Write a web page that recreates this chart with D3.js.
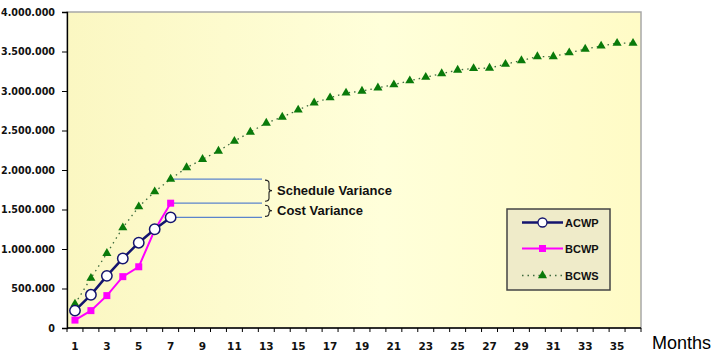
<!DOCTYPE html>
<html><head><meta charset="utf-8">
<script src="https://cdn.jsdelivr.net/npm/d3@7"></script>
<style>body{margin:0;background:#fff}svg{display:block}</style>
</head><body><svg id="c" width="716" height="359"></svg>
<script>
const months = [1,2,3,4,5,6,7,8,9,10,11,12,13,14,15,16,17,18,19,20,21,22,23,24,25,26,27,28,29,30,31,32,33,34,35,36];
const monthLabels = [1,3,5,7,9,11,13,15,17,19,21,23,25,27,29,31,33,35];
const acwp = [220000, 420000, 660000, 880000, 1080000, 1250000, 1400000];
const bcwp = [100000, 220000, 410000, 650000, 775000, 1240000, 1580000];
const bcws = [305000, 630000, 945000, 1270000, 1535000, 1725000, 1885000, 2030000, 2135000, 2240000,
  2365000, 2480000, 2595000, 2670000, 2760000, 2850000, 2915000, 2975000, 3000000, 3040000,
  3080000, 3130000, 3175000, 3220000, 3265000, 3285000, 3290000, 3340000, 3385000, 3435000,
  3435000, 3485000, 3530000, 3570000, 3605000, 3605000];
const yTicks = [0, 500000, 1000000, 1500000, 2000000, 2500000, 3000000, 3500000, 4000000];
const seriesNames = ["ACWP", "BCWP", "BCWS"];
const annotations = ["Schedule Variance", "Cost Variance"];
const xTitle = "Months";

const svg = d3.select("#c");
const L = 67, R = 641, T = 12, B = 328;
const x = d3.scaleBand().domain(months).range([L, R]).padding(0);
const y = d3.scaleLinear().domain([0, 4000000]).range([B, T]);
const cx = m => x(m) + x.bandwidth() / 2;
const loc = d3.formatLocale({decimal: ",", thousands: ".", grouping: [3], currency: ["", ""]});
const fmt = loc.format(",d");

const defs = svg.append("defs");
const g = defs.append("linearGradient").attr("id", "bg").attr("x1", "0").attr("x2", "1").attr("y1", "0").attr("y2", "0");
g.append("stop").attr("offset", "0").attr("stop-color", "#fbf7c2");
g.append("stop").attr("offset", "0.55").attr("stop-color", "#ffffda");
g.append("stop").attr("offset", "1").attr("stop-color", "#fffbc6");

svg.append("rect").attr("x", L).attr("y", T).attr("width", R - L).attr("height", B - T)
  .attr("fill", "url(#bg)").attr("stroke", "#a8a8a8").attr("stroke-width", 1.5);

// Y axis
const yAxis = svg.append("g").attr("transform", `translate(${L},0)`)
  .call(d3.axisLeft(y).tickValues(yTicks).tickFormat(fmt).tickSizeOuter(0).tickSize(5).tickPadding(7));
yAxis.select(".domain").attr("stroke", "#000").attr("stroke-width", 1.3);
yAxis.selectAll(".tick line").attr("stroke", "#000");
yAxis.selectAll("text").attr("font-family", "DejaVu Sans").attr("font-weight", "bold")
  .attr("font-size", "9.6px").attr("fill", "#111");

// X axis: ticks at category boundaries
const xAxisG = svg.append("g").attr("transform", `translate(0,${B})`);
xAxisG.append("line").attr("x1", L).attr("x2", R).attr("stroke", "#000").attr("stroke-width", 1.3);
const bounds = months.map(m => x(m)).concat([R]);
xAxisG.selectAll("line.tk").data(bounds).join("line").attr("class", "tk")
  .attr("x1", d => d).attr("x2", d => d).attr("y1", 0).attr("y2", 4).attr("stroke", "#000");
xAxisG.selectAll("text").data(monthLabels).join("text")
  .attr("x", d => cx(d)).attr("y", 22).attr("text-anchor", "middle")
  .attr("font-family", "DejaVu Sans").attr("font-weight", "bold").attr("font-size", "10.5px")
  .attr("fill", "#111").text(d => d);
svg.append("text").attr("x", 652).attr("y", 349).attr("font-family", "Liberation Sans, Arial")
  .attr("font-size", "18px").attr("fill", "#000").text(xTitle);

// Annotation lines
const last = acwp.length - 1;
const endX = 262;
const annVals = [bcws[last], bcwp[last], acwp[last]];
svg.selectAll("line.ann").data(annVals).join("line").attr("class", "ann")
  .attr("x1", cx(months[last])).attr("x2", endX).attr("y1", d => y(d)).attr("y2", d => y(d))
  .attr("stroke", "#5b84cc").attr("stroke-width", 1.3);
function brace(y0, y1) {
  const x0 = 265, w = 4, xm = y0 + (y1 - y0) / 2;
  return `M${x0},${y0} Q${x0 + w},${y0} ${x0 + w},${y0 + 3} L${x0 + w},${xm - 2} Q${x0 + w},${xm} ${x0 + w + 3},${xm} Q${x0 + w},${xm} ${x0 + w},${xm + 2} L${x0 + w},${y1 - 3} Q${x0 + w},${y1} ${x0},${y1}`;
}
const braceSpans = [[y(bcws[last]) + 1, y(bcwp[last]) - 2], [y(bcwp[last]) + 2, y(acwp[last]) - 1]];
braceSpans.forEach((s, i) => {
  svg.append("path").attr("d", brace(s[0], s[1])).attr("fill", "none").attr("stroke", "#222").attr("stroke-width", 1.1);
  svg.append("text").attr("x", 277).attr("y", (s[0] + s[1]) / 2 + 4.5)
    .attr("font-family", "Liberation Sans, Arial").attr("font-weight", "bold").attr("font-size", "13px")
    .attr("fill", "#111").text(annotations[i]);
});

// Series
const colACWP = "#14146e", colBCWP = "#ff00ff", colBCWS = "#0a7a0a";
const line = d3.line().x((d, i) => cx(months[i])).y(d => y(d));
svg.append("path").datum(bcws).attr("d", line).attr("fill", "none")
  .attr("stroke", "#3d6a3d").attr("stroke-width", 1.3).attr("stroke-dasharray", "1.5,4");
svg.append("path").datum(bcwp).attr("d", line).attr("fill", "none")
  .attr("stroke", colBCWP).attr("stroke-width", 2);
svg.append("path").datum(acwp).attr("d", line).attr("fill", "none")
  .attr("stroke", colACWP).attr("stroke-width", 2.5);
const tri = d3.symbol().type(d3.symbolTriangle).size(36);
svg.selectAll("path.tri").data(bcws).join("path").attr("class", "tri")
  .attr("d", tri).attr("transform", (d, i) => `translate(${cx(months[i])},${y(d)})`).attr("fill", colBCWS);
svg.selectAll("rect.sq").data(bcwp).join("rect").attr("class", "sq")
  .attr("x", (d, i) => cx(months[i]) - 3.5).attr("y", d => y(d) - 3.5).attr("width", 7).attr("height", 7)
  .attr("fill", colBCWP);
svg.selectAll("circle.ci").data(acwp).join("circle").attr("class", "ci")
  .attr("cx", (d, i) => cx(months[i])).attr("cy", d => y(d)).attr("r", 5.2)
  .attr("fill", "#fff").attr("stroke", colACWP).attr("stroke-width", 1.5);

// Legend
const lg = svg.append("g");
lg.append("rect").attr("x", 507).attr("y", 209).attr("width", 103).attr("height", 81)
  .attr("fill", "#efebc9").attr("stroke", "#444").attr("stroke-width", 1.5);
const rows = [222.5, 248.5, 275.5];
const lx0 = 522, lx1 = 563, lm = 542.5;
lg.append("line").attr("x1", lx0).attr("x2", lx1).attr("y1", rows[0]).attr("y2", rows[0]).attr("stroke", colACWP).attr("stroke-width", 2.5);
lg.append("circle").attr("cx", lm).attr("cy", rows[0]).attr("r", 4.5).attr("fill", "#fff").attr("stroke", colACWP).attr("stroke-width", 1.3);
lg.append("line").attr("x1", lx0).attr("x2", lx1).attr("y1", rows[1]).attr("y2", rows[1]).attr("stroke", colBCWP).attr("stroke-width", 2);
lg.append("rect").attr("x", lm - 3.5).attr("y", rows[1] - 3.5).attr("width", 7).attr("height", 7).attr("fill", colBCWP);
lg.append("line").attr("x1", lx0).attr("x2", lx1).attr("y1", rows[2]).attr("y2", rows[2]).attr("stroke", "#3d6a3d").attr("stroke-width", 1.3).attr("stroke-dasharray", "1.5,4");
lg.append("path").attr("d", tri).attr("transform", `translate(${lm},${rows[2]})`).attr("fill", colBCWS);
lg.selectAll("text").data(seriesNames).join("text").attr("x", 565).attr("y", (d, i) => rows[i] + 4)
  .attr("font-family", "Liberation Sans, Arial").attr("font-weight", "bold").attr("font-size", "11px")
  .attr("fill", "#111").text(d => d);
</script></body></html>
